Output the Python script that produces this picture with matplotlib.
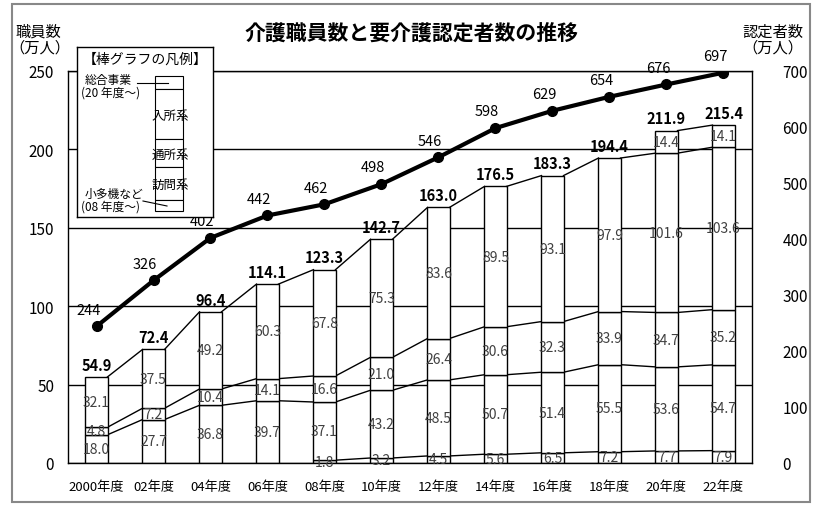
import numpy as np
import matplotlib
matplotlib.use("Agg")
from matplotlib import pyplot as plt
from matplotlib.patches import Rectangle

plt.rcParams['font.family'] = ['Noto Sans CJK JP', 'DejaVu Sans']

# data
years = ["2000年度", "02年度", "04年度", "06年度", "08年度", "10年度",
         "12年度", "14年度", "16年度", "18年度", "20年度", "22年度"]
shotaki = [None, None, None, None, 1.8, 3.2, 4.5, 5.6, 6.5, 7.2, 7.7, 7.9]
houmon = [18.0, 27.7, 36.8, 39.7, 37.1, 43.2, 48.5, 50.7, 51.4, 55.5, 53.6, 54.7]
tsusho = [4.8, 7.2, 10.4, 14.1, 16.6, 21.0, 26.4, 30.6, 32.3, 33.9, 34.7, 35.2]
nyusho = [32.1, 37.5, 49.2, 60.3, 67.8, 75.3, 83.6, 89.5, 93.1, 97.9, 101.6, 103.6]
sogo = [None] * 10 + [14.4, 14.1]
totals = [54.9, 72.4, 96.4, 114.1, 123.3, 142.7, 163.0, 176.5, 183.3, 194.4, 211.9, 215.4]
nintei = [244, 326, 402, 442, 462, 498, 546, 598, 629, 654, 676, 697]

series = [shotaki, houmon, tsusho, nyusho, sogo]

fig = plt.figure(figsize=(8.2, 5.1), dpi=100)
ax = fig.add_axes([68 / 820, 1 - 464 / 510, 684 / 820, 392 / 510])
x = np.arange(len(years))
w = 0.386

ax.set_xlim(-0.5, len(years) - 0.5)
ax.set_ylim(0, 250)
ax.set_yticks(range(0, 251, 50))
ax.yaxis.grid(True, color="black", lw=1)
ax.set_axisbelow(True)
for s in ax.spines.values():
    s.set_color("black")
    s.set_linewidth(1)
ax.tick_params(length=0, labelsize=11)
ax.tick_params(axis="y", pad=10)
ax.tick_params(axis="x", pad=12, labelsize=9.5)
ax.set_xticks(x)
ax.set_xticklabels(years)

bottom = np.zeros(len(years))
for ser in series:
    vals = np.array([v if v is not None else 0 for v in ser])
    present = np.array([v is not None for v in ser])
    ax.bar(x[present], vals[present], w, bottom=bottom[present],
           color="white", edgecolor="black", lw=1, zorder=2)
    top = bottom + vals
    # series lines between bars
    for i in range(len(years) - 1):
        if present[i] and present[i + 1]:
            ax.plot([x[i] + w / 2, x[i + 1] - w / 2], [top[i], top[i + 1]],
                    color="black", lw=1, zorder=2)
    for i in np.where(present)[0]:
        ax.text(x[i], bottom[i] + vals[i] / 2, f"{vals[i]:.1f}",
                ha="center", va="center", fontsize=10, color="#404040", zorder=3)
    bottom = top

for i, t in enumerate(totals):
    ax.annotate(f"{t:.1f}", (x[i], bottom[i]), xytext=(0, 3),
                textcoords="offset points", ha="center", va="bottom",
                fontsize=10.5, fontweight="bold", zorder=3)

ax2 = ax.twinx()
ax2.set_ylim(0, 700)
ax2.set_yticks(range(0, 701, 100))
ax2.tick_params(length=0, labelsize=11, pad=22)
ax2.plot(x, nintei, color="black", lw=3, marker="o", ms=7, zorder=4)
for i, v in enumerate(nintei):
    ax2.annotate(str(v), (x[i], v), xytext=(-6, 7), textcoords="offset points",
                 ha="center", va="bottom", fontsize=10.5)
for s in ax2.spines.values():
    s.set_visible(False)

# title and axis labels
fig.text(411 / 820, 1 - 33 / 510, "介護職員数と要介護認定者数の推移",
         ha="center", va="center", fontsize=15, fontweight="bold")
fig.text(15 / 820, 1 - 32 / 510, "職員数", ha="left", va="center", fontsize=11)
fig.text(9 / 820, 1 - 48 / 510, "（万人）", ha="left", va="center", fontsize=11)
fig.text(803 / 820, 1 - 32 / 510, "認定者数", ha="right", va="center", fontsize=11)
fig.text(803 / 820, 1 - 48 / 510, "（万人）", ha="right", va="center", fontsize=11)

# legend box
lg = fig.add_axes([77 / 820, 1 - 218 / 510, 136 / 820, 170 / 510])
lg.set_xlim(0, 136)
lg.set_ylim(170, 0)
lg.set_xticks([])
lg.set_yticks([])
for s in lg.spines.values():
    s.set_color("black")
    s.set_linewidth(1)
lg.text(68, 12, "【棒グラフの凡例】", ha="center", va="center", fontsize=10)
edges = [29, 42, 92, 120, 153, 164]
for a, b in zip(edges[:-1], edges[1:]):
    lg.add_patch(Rectangle((78, a), 28, b - a, facecolor="white",
                           edgecolor="black", lw=0.8))
lg.text(8, 32, "総合事業", ha="left", va="center", fontsize=8.5)
lg.text(4, 45, "(20 年度～)", ha="left", va="center", fontsize=8.5)
lg.plot([60, 91], [36, 36], color="black", lw=0.8)
lg.text(93, 68, "入所系", ha="center", va="center", fontsize=9)
lg.text(93, 107, "通所系", ha="center", va="center", fontsize=9)
lg.text(93, 137, "訪問系", ha="center", va="center", fontsize=9)
lg.text(8, 146, "小多機など", ha="left", va="center", fontsize=8.5)
lg.text(4, 159, "(08 年度～)", ha="left", va="center", fontsize=8.5)
lg.plot([66, 90], [154, 159], color="black", lw=0.8)

# outer frame
fig.patches.append(Rectangle((12 / 820, 1 - 503 / 510), 798 / 820, 498 / 510,
                             transform=fig.transFigure, fill=False,
                             edgecolor="#888888", lw=1.5))

fig.savefig("out.png", dpi=100)
